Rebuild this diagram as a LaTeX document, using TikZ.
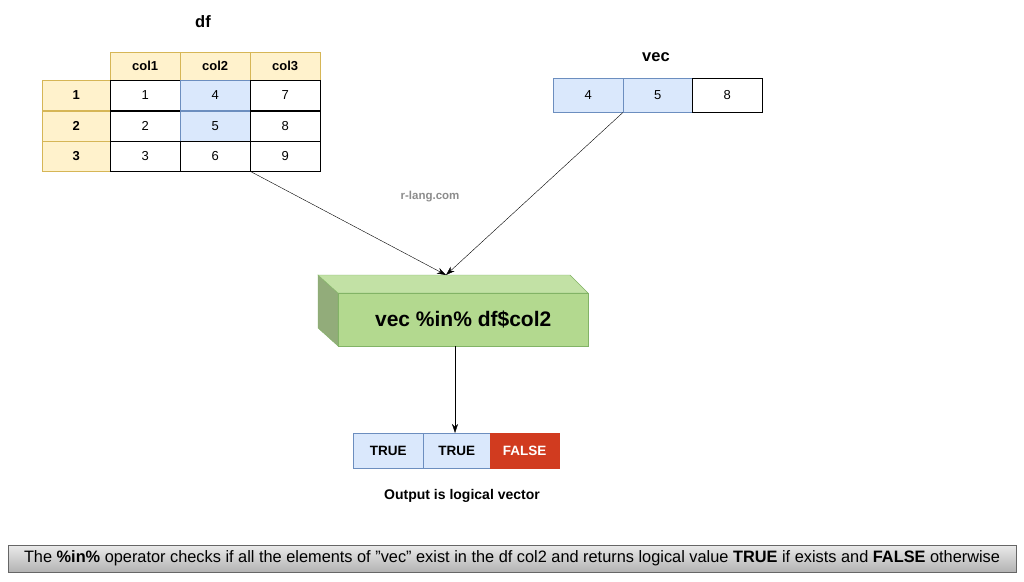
\documentclass[tikz,border=0pt]{standalone}
\usepackage{fontspec}
\setmainfont{Liberation Sans}
\usetikzlibrary{arrows.meta}
\definecolor{hdr}{HTML}{FFF2CC}\definecolor{hdrb}{HTML}{D6B656}
\definecolor{blu}{HTML}{DAE8FC}\definecolor{blub}{HTML}{6C8EBF}
\definecolor{grn}{HTML}{B3D98F}\definecolor{grnb}{HTML}{82B366}
\definecolor{red1}{HTML}{D13B1F}
\begin{document}
\begin{tikzpicture}[x=1pt,y=-1pt,
 cell/.style={draw=black,minimum width=70pt,minimum height=30pt,inner sep=0pt,font=\fontsize{13}{15}\selectfont,anchor=north west},
 hcell/.style={cell,draw=hdrb,fill=hdr,font=\bfseries\fontsize{13}{15}\selectfont},
 bcell/.style={cell,draw=blub,fill=blu},
 ocell/.style={cell,minimum height=35pt,font=\bfseries\fontsize{13.5}{15}\selectfont},
 ttl/.style={font=\bfseries\fontsize{16.5}{19}\selectfont},
 arr/.style={-{Stealth[length=9pt,width=6pt]},thin}]
\useasboundingbox (0,0) rectangle (1024,581);
\node[ttl] (df) at (203,22) {df};
\node[hcell,minimum height=28pt] (c1) at (110,52) {col1};
\node[hcell,minimum height=28pt] (c2) at (180,52) {col2};
\node[hcell,minimum height=28pt] (c3) at (250,52) {col3};
\node[hcell,minimum width=68pt] (r1) at (42,80) {1};
\node[hcell,minimum width=68pt] (r2) at (42,110.5) {2};
\node[hcell,minimum width=68pt] (r3) at (42,141) {3};
\node[cell] (a11) at (110,80) {1};
\node[bcell] (a12) at (180,80) {4};
\node[cell] (a13) at (250,80) {7};
\node[cell] (a21) at (110,110.5) {2};
\node[bcell] (a22) at (180,110.5) {5};
\node[cell] (a23) at (250,110.5) {8};
\node[cell] (a31) at (110,141) {3};
\node[cell] (a32) at (180,141) {6};
\node[cell] (a33) at (250,141) {9};
\node[ttl] (vec) at (656,57) {vec};
\node[bcell,minimum height=34pt] (v1) at (553,78) {4};
\node[bcell,minimum height=34pt,minimum width=69pt] (v2) at (623,78) {5};
\node[cell,minimum height=34pt] (v3) at (692,78) {8};
\node[font=\bfseries\fontsize{11.5}{13}\selectfont,text=black!45] (wm) at (430,197) {r-lang.com};
% cuboid
\fill[grn!75!black!90,draw=grnb] (318,275) -- (338,293) -- (338,346) -- (318,328) -- cycle;
\fill[grn!80!white,draw=grnb] (318,275) -- (570,275) -- (588,293) -- (338,293) -- cycle;
\node[draw=grnb,fill=grn,minimum width=250pt,minimum height=53pt,inner sep=0pt,anchor=north west,font=\bfseries\fontsize{21}{24}\selectfont] (op) at (338,293) {vec \%in\% df\$col2};
\coordinate (top) at (446,275);
\draw[arr] (a32.south east) -- (top);
\draw[arr] (v2.south west) -- (top);
\node[ocell,draw=blub,fill=blu] (o1) at (353,433) {TRUE};
\node[ocell,draw=blub,fill=blu,minimum width=67pt] (o2) at (423,433) {TRUE};
\node[ocell,draw=red1,fill=red1,text=white,minimum width=69pt] (o3) at (490,433) {FALSE};
\draw[arr] (op.south -| 455,0) -- (o2.north -| 455,0);
\node[font=\bfseries\fontsize{14}{16}\selectfont] (cap) at (462,496) {Output is logical vector};
\node[draw=black!60,top color=black!8,bottom color=black!30,minimum width=1008pt,minimum height=27pt,inner sep=0pt,font=\fontsize{16.5}{18}\selectfont] (note) at (512,558.5) {\addfontfeatures{FakeStretch=0.99}The \textbf{\%in\%} operator checks if all the elements of \symbol{34}vec\symbol{34} exist in the df col2 and returns logical value \textbf{TRUE} if exists and \textbf{FALSE} otherwise};
\end{tikzpicture}
\end{document}
